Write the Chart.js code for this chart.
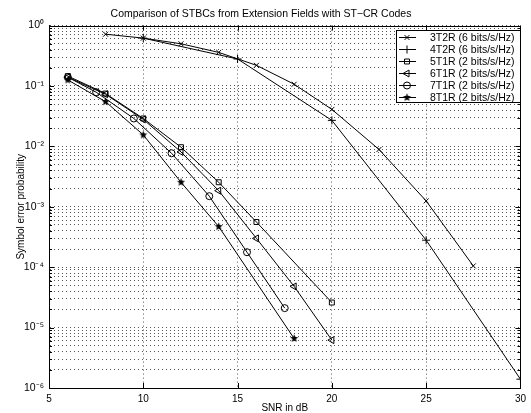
<!DOCTYPE html>
<html>
<head>
<meta charset="utf-8">
<script src="https://cdn.jsdelivr.net/npm/chart.js@4/dist/chart.umd.min.js"></script>
<style>
  html, body { margin: 0; padding: 0; background: #fff; }
  #wrap { width: 531px; height: 413px; }
</style>
</head>
<body>
<div id="wrap"><canvas id="c" width="531" height="413"></canvas></div>
<script>
// values (SNR in dB, symbol error probability)
const snr3T2R = [8, 10, 12, 14, 16, 18, 20, 22.5, 25, 27.5];
const ser3T2R = [0.72, 0.62, 0.5, 0.36, 0.22, 0.107, 0.041, 0.0089, 0.00125, 0.000105];

const snr4T2R = [10, 15, 20, 25, 30];
const ser4T2R = [0.62, 0.28, 0.027, 0.00028, 0.0000014];

const snr5T1R = [6, 8, 10, 12, 14, 16, 20];
const ser5T1R = [0.146, 0.075, 0.029, 0.0097, 0.00255, 0.00056, 0.000026];

const snr6T1R = [6, 8, 10, 12, 14, 16, 18, 20];
const ser6T1R = [0.14, 0.073, 0.028, 0.0081, 0.00185, 0.0003, 0.000048, 0.0000062];

const snr7T1R = [6, 7.5, 9.5, 11.5, 13.5, 15.5, 17.5];
const ser7T1R = [0.14, 0.079, 0.029, 0.0077, 0.0015, 0.000177, 0.000021];

const snr8T1R = [6, 8, 10, 12, 14, 18];
const ser8T1R = [0.126, 0.055, 0.0155, 0.00255, 0.00047, 0.0000066];

const seriesNames = ['3T2R (6 bits/s/Hz)', '4T2R (6 bits/s/Hz)', '5T1R (2 bits/s/Hz)',
                     '6T1R (2 bits/s/Hz)', '7T1R (2 bits/s/Hz)', '8T1R (2 bits/s/Hz)'];

const xTicks = [5, 10, 15, 20, 25, 30];
const yDecades = [-6, -5, -4, -3, -2, -1, 0];
const supDigits = {'0':'⁰','1':'¹','2':'²','3':'³','4':'⁴','5':'⁵','6':'⁶','-':'⁻'};

function pts(xs, ys) {
    return xs.map((x, i) => ({x: x, y: ys[i]}));
}

// filled five point star for 8T1R
function makeStar(r) {
    let cv = document.createElement('canvas');
    let s = Math.ceil(r * 2 + 2);
    cv.width = s; cv.height = s;
    let g = cv.getContext('2d');
    g.fillStyle = '#000';
    g.beginPath();
    for (let i = 0; i < 10; i++) {
        let a = -Math.PI / 2 + i * Math.PI / 5;
        let rr = i % 2 ? r * 0.45 : r;
        g.lineTo(s / 2 + rr * Math.cos(a), s / 2 + rr * Math.sin(a));
    }
    g.closePath();
    g.fill();
    return cv;
}
const starImg = makeStar(4.2);

const styles = [
    {pointStyle: 'crossRot', rotation: 0, radius: 3.5},
    {pointStyle: 'cross', rotation: 0, radius: 4},
    {pointStyle: 'rect', rotation: 0, radius: 3.5},
    {pointStyle: 'triangle', rotation: -90, radius: 4},
    {pointStyle: 'circle', rotation: 0, radius: 3.5},
    {pointStyle: starImg, rotation: 0, radius: 4.2}
];

const allData = [pts(snr3T2R, ser3T2R), pts(snr4T2R, ser4T2R), pts(snr5T1R, ser5T1R),
                 pts(snr6T1R, ser6T1R), pts(snr7T1R, ser7T1R), pts(snr8T1R, ser8T1R)];

const datasets = allData.map((d, i) => ({
    label: seriesNames[i],
    data: d,
    borderColor: '#000',
    borderWidth: 1,
    backgroundColor: 'rgba(0,0,0,0)',
    pointStyle: styles[i].pointStyle,
    rotation: styles[i].rotation,
    pointRadius: styles[i].radius,
    pointBorderWidth: 1,
    pointBorderColor: '#000',
    pointBackgroundColor: 'rgba(0,0,0,0)',
    tension: 0,
    fill: false
}));

const frame = {
    id: 'frame',
    beforeDraw(chart) {
        let ctx = chart.ctx;
        ctx.save();
        ctx.fillStyle = '#fff';
        ctx.fillRect(0, 0, chart.width, chart.height);
        ctx.restore();
    },
    afterDraw(chart) {
        let ctx = chart.ctx, a = chart.chartArea;
        let xs = chart.scales.x, ys = chart.scales.y;
        ctx.save();
        ctx.strokeStyle = '#000';
        ctx.lineWidth = 1;
        ctx.strokeRect(Math.round(a.left) + 0.5, Math.round(a.top) + 0.5,
                       Math.round(a.right - a.left), Math.round(a.bottom - a.top));
        ctx.beginPath();
        // inward ticks, matlab style
        xTicks.forEach(v => {
            let px = Math.round(xs.getPixelForValue(v)) + 0.5;
            ctx.moveTo(px, a.bottom); ctx.lineTo(px, a.bottom - 5);
            ctx.moveTo(px, a.top); ctx.lineTo(px, a.top + 5);
        });
        ys.ticks.forEach(t => {
            let py = Math.round(ys.getPixelForValue(t.value)) + 0.5;
            let len = t.major ? 5 : 3;
            ctx.moveTo(a.left, py); ctx.lineTo(a.left + len, py);
            ctx.moveTo(a.right, py); ctx.lineTo(a.right - len, py);
        });
        ctx.stroke();

        // legend box
        let bx = 396, by = 30, bw = 124, bh = 72;
        ctx.fillStyle = '#fff';
        ctx.fillRect(bx, by, bw, bh);
        ctx.strokeRect(bx + 0.5, by + 0.5, bw, bh);
        ctx.font = '10.5px "Liberation Sans", Arial, sans-serif';
        ctx.textBaseline = 'middle';
        ctx.textAlign = 'left';
        chart.data.datasets.forEach((ds, i) => {
            let cy = by + 7 + i * 12;
            ctx.strokeStyle = '#000';
            ctx.fillStyle = '#000';
            ctx.beginPath();
            ctx.moveTo(bx + 3, cy + 0.5);
            ctx.lineTo(bx + 20, cy + 0.5);
            ctx.stroke();
            ctx.fillStyle = 'rgba(0,0,0,0)';
            Chart.helpers.drawPoint(ctx, {
                pointStyle: styles[i].pointStyle,
                rotation: styles[i].rotation,
                radius: styles[i].radius,
                borderWidth: 1
            }, bx + 11, cy + 0.5);
            ctx.fillStyle = '#000';
            ctx.fillText(ds.label, bx + 34, cy + 1);
        });
        ctx.restore();
    }
};

new Chart(document.getElementById('c'), {
    type: 'line',
    data: {datasets: datasets},
    options: {
        responsive: false,
        devicePixelRatio: 1,
        animation: false,
        layout: {padding: {left: 0, right: 9, top: 0, bottom: 0}},
        plugins: {
            legend: {display: false},
            tooltip: {enabled: false},
            title: {
                display: true,
                text: 'Comparison of STBCs from Extension Fields with ST\u2212CR Codes',
                color: '#000',
                font: {family: '"Liberation Sans", Arial, sans-serif', size: 10.5, weight: 'normal'},
                padding: {top: 8, bottom: 5}
            }
        },
        scales: {
            x: {
                type: 'linear',
                min: 5, max: 30,
                afterBuildTicks(scale) { scale.ticks = xTicks.map(v => ({value: v})); },
                afterFit(scale) { scale.height = 25; },
                ticks: {color: '#000', padding: 5, font: {family: '"Liberation Sans", Arial, sans-serif', size: 10}},
                grid: {color: '#555', lineWidth: 1, drawTicks: false},
                border: {display: true, color: '#000', dash: [1, 3]},
                title: {display: true, text: 'SNR in dB', color: '#000', padding: {top: 0, bottom: -1},
                        font: {family: '"Liberation Sans", Arial, sans-serif', size: 10}}
            },
            y: {
                type: 'logarithmic',
                min: 1e-6, max: 1,
                afterBuildTicks(scale) {
                    let t = [];
                    yDecades.forEach(e => {
                        for (let m = 1; m <= 9; m++) {
                            if (e === 0 && m > 1) break;
                            t.push({value: m * Math.pow(10, e), major: m === 1});
                        }
                    });
                    scale.ticks = t;
                },
                afterFit(scale) { scale.width = 49; },
                ticks: {
                    color: '#000', padding: 5, autoSkip: false,
                    font: {family: '"Liberation Sans", Arial, sans-serif', size: 10.5},
                    callback(v) {
                        let e = Math.round(Math.log10(v));
                        if (Math.abs(v - Math.pow(10, e)) > 1e-12 * Math.pow(10, e)) return '';
                        return '10' + String(e).split('').map(c => supDigits[c]).join('');
                    }
                },
                grid: {color: '#555', lineWidth: 1, drawTicks: false},
                border: {display: true, color: '#000', dash: [1, 3]},
                title: {display: true, text: 'Symbol error probability', color: '#000', padding: {top: 15, bottom: 0},
                        font: {family: '"Liberation Sans", Arial, sans-serif', size: 10}}
            }
        }
    },
    plugins: [frame]
});
</script>
</body>
</html>
